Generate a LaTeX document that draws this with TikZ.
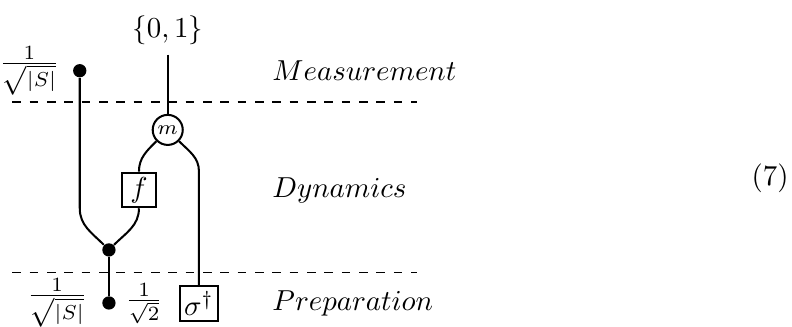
\documentclass[tikz,border=0pt]{standalone}
\usepackage{amsmath}
\usepackage{amssymb}
\usepackage{tikz}
\usetikzlibrary{positioning,calc}

\begin{document}
\begin{tikzpicture}[
    wire/.style={line width=0.7pt},
    dot/.style={circle, fill, inner sep=0pt, minimum size=4.6pt},
    box/.style={rectangle, draw, line width=0.7pt, inner sep=1.5pt, minimum size=12pt},
    meas/.style={circle, draw, line width=0.7pt, inner sep=0pt, minimum size=10.4pt},
    layer/.style={anchor=west},
    cut/.style={dashed, thin}
]
    \useasboundingbox (0,0) rectangle (9.633,-3.977);

    % Layer borders
    \draw[cut] (0.15,-1.24) -- (5.07,-1.24);
    \draw[cut] (0.15,-3.31) -- (5.07,-3.31);

    % Layer names
    \node[layer] (meas) at (3.19,-0.865) {$Measurement$};
    \node[layer] (dyn) at (3.19,-2.32) {$Dynamics$};
    \node[layer] (prep) at (3.19,-3.695) {$Preparation$};

    % Equation number
    \node (eqno) at (9.366,-2.165) {(7)};

    % Measurement
    \node (out) at (2.04,-0.365) {$\{0,1\}$};
    \node[meas] (m) at (2.04,-1.58) {\scriptsize$m$};
    \node[dot] (tdot) at (0.97,-0.86) {};
    \node[left=1pt of tdot] (tnorm) {$\frac{1}{\sqrt{|S|}}$};

    % Dynamics
    \node[box] (f) at (1.69,-2.31) {$f$};
    \node[dot] (mdot) at (1.325,-3.04) {};

    % Preparation
    \node[dot] (bdot) at (1.325,-3.685) {};
    \node[box] (sig) at (2.42,-3.69) {$\sigma^\dagger$};
    \node[left=1.5pt of bdot] (bnorm) {$\frac{1}{\sqrt{|S|}}$};
    \node[left=2pt of sig] (hnorm) {$\frac{1}{\sqrt{2}}$};

    % Wires
    \draw[wire] (out) -- (m);
    \draw[wire] (m.225) to[out=-135,in=90] (f.north);
    \draw[wire] (m.-45) to[out=-45,in=90] (sig.north |- f.north) -- (sig.north);
    \draw[wire] (tdot) -- (tdot |- f.south) to[out=-90,in=135] (mdot);
    \draw[wire] (f.south) to[out=-90,in=45] (mdot);
    \draw[wire] (mdot) -- (bdot);

\end{tikzpicture}
\end{document}
